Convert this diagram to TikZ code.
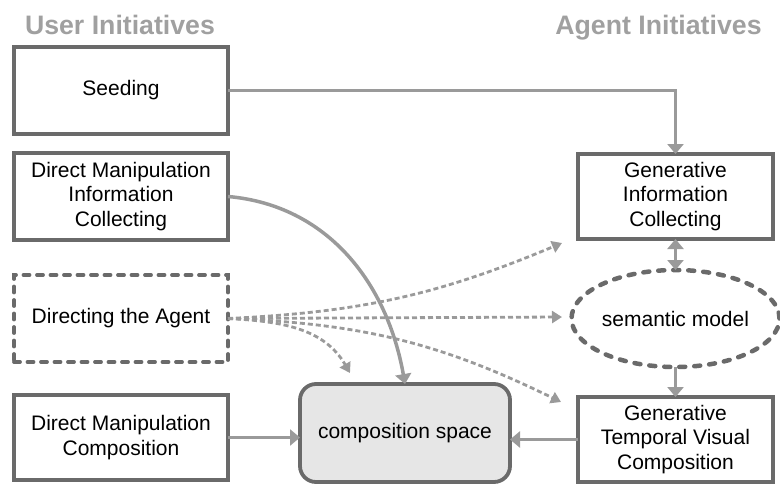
\documentclass[tikz,border=0pt]{standalone}
\usepackage{fontspec}
\setmainfont{Liberation Sans}
\usetikzlibrary{arrows.meta,shapes.geometric}
\definecolor{boxgray}{HTML}{6A6A6A}
\definecolor{arrgray}{HTML}{9A9A9A}
\definecolor{headgray}{HTML}{A0A0A0}
\definecolor{compfill}{HTML}{E6E6E6}
\tikzset{
  box/.style={draw=boxgray, line width=3.8pt, fill=white, inner sep=0pt, outer sep=0pt,
    align=center, font=\fontsize{21}{24.5}\selectfont, text=black},
  dbox/.style={box, dash pattern=on 6pt off 7.5pt, line cap=round},
  arr/.style={draw=arrgray, line width=3.5pt, -{Triangle[width=16pt,length=10pt]}},
  darr/.style={draw=arrgray, line width=2.8pt, dash pattern=on 5pt off 3pt, -{Triangle[width=12pt,length=10pt]}},
  head/.style={font=\fontsize{26.7}{30}\selectfont\bfseries, text=headgray, anchor=base},
}
\begin{document}
\begin{tikzpicture}[x=1pt,y=-1pt]
\useasboundingbox (0,0) rectangle (780,483);
\node[head] (uhead) at (120,34) {User Initiatives};
\node[head] (ahead) at (658.5,34) {Agent Initiatives};

\node[box, minimum width=214pt, minimum height=87pt] (seed) at (121,90.5) {Seeding};
\node[box, minimum width=214pt, minimum height=87pt] (dmic) at (121,196.5) {Direct Manipulation\\Information\\Collecting};
\node[dbox, minimum width=214pt, minimum height=87pt] (direct) at (121,318.5) {Directing the Agent};
\node[box, minimum width=214pt, minimum height=85pt] (dmc) at (121,437.5) {Direct Manipulation\\Composition};
\node[box, fill=compfill, rounded corners=16pt, minimum width=210pt, minimum height=98pt] (comp) at (405,433) {composition space};

\node[box, minimum width=195pt, minimum height=85pt] (gic) at (675.5,196.5) {Generative\\Information\\Collecting};
\node[box, ellipse, line width=4.5pt, dash pattern=on 6pt off 9pt, line cap=round, minimum width=195pt, minimum height=97pt] (sem) at (675.5,318.5) {semantic model};
\node[box, minimum width=195pt, minimum height=85pt] (gtvc) at (675.5,439.5) {Generative\\Temporal Visual\\Composition};

\coordinate (dgic) at (562,243);
\coordinate (dsem) at (562,317);
\coordinate (dgtvc) at (561,402);
\coordinate (dcomp) at (350,373);

\draw[arr] (seed.east) -- (seed.east -| gic.north) -- (gic.north);
\draw[arr] (dmic.east) to[out=-5,in=100] (comp.north);
\draw[arr] (dmc.east) -- (dmc.east -| comp.west);
\draw[arr] (gtvc.west) -- (gtvc.west -| comp.east);
\draw[arr, {Triangle[width=16pt,length=10pt]}-{Triangle[width=16pt,length=10pt]}] (gic.south) -- (sem.north);
\draw[arr] (sem.south) -- (gtvc.north);

\draw[darr] (direct.east) to[bend right=10] (dgic);
\draw[darr] (direct.east) -- (dsem);
\draw[darr] (direct.east) to[bend left=12] (dgtvc);
\draw[darr] (direct.east) to[out=-3,in=120] (dcomp);
\end{tikzpicture}
\end{document}
